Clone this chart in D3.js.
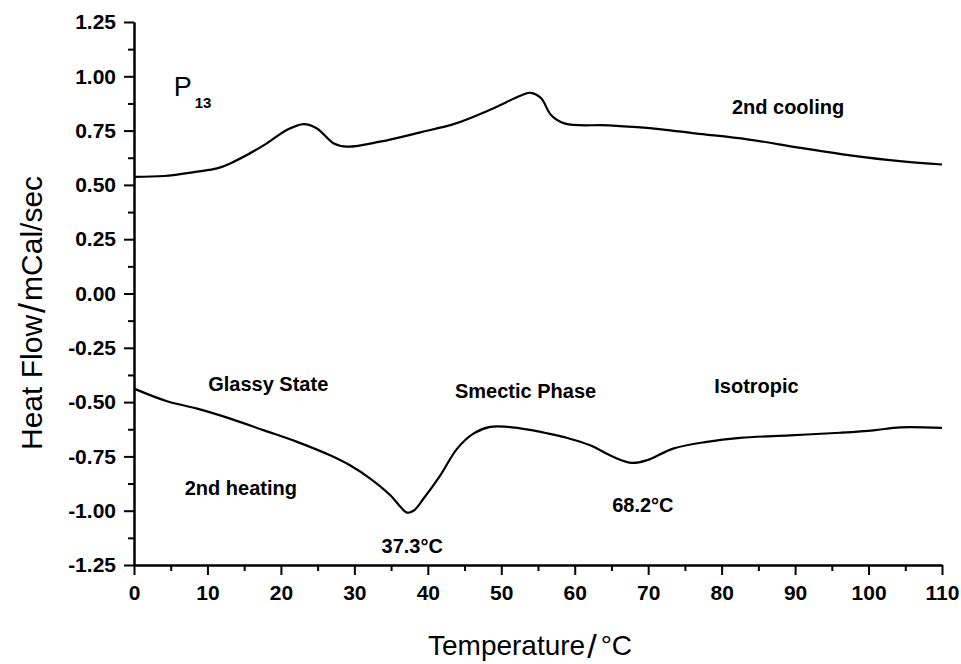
<!DOCTYPE html>
<html>
<head>
<meta charset="utf-8">
<script src="https://cdn.jsdelivr.net/npm/d3@7"></script>
<style>
  body { margin: 0; background: #fff; }
  svg { font-family: "Liberation Sans", Arial, sans-serif; }
</style>
</head>
<body>
<div id="chart"></div>
<script>
// 2nd cooling curve (upper)
const coolingTemp = [0, 4.05, 8.6, 11.3, 13.1, 17.7, 20.8, 23.1, 24.9, 27.2, 29.0, 33.5, 39.0, 43.7, 48.4, 53.0, 54.0, 55.4, 56.8, 58.7, 64.7, 71.8, 76.4, 83.5, 90.5, 97.5, 104.6, 110]
const coolingFlow = [0.537, 0.541, 0.561, 0.576, 0.599, 0.683, 0.753, 0.780, 0.760, 0.691, 0.676, 0.699, 0.742, 0.782, 0.845, 0.916, 0.924, 0.900, 0.821, 0.782, 0.774, 0.756, 0.737, 0.710, 0.672, 0.636, 0.608, 0.594]

// 2nd heating curve (lower)
const heatingTemp = [0, 4.5, 8.6, 13.1, 17.7, 22.2, 26.7, 29.4, 32.2, 34.9, 36.3, 37.2, 38.1, 39.4, 41.7, 44.0, 46.2, 48.5, 50.8, 53.9, 56.4, 59.0, 62.1, 65.3, 67.8, 69.8, 73.4, 78.0, 82.5, 89.3, 96.1, 100.7, 104.3, 110]
const heatingFlow = [-0.438, -0.496, -0.530, -0.576, -0.630, -0.683, -0.745, -0.791, -0.853, -0.929, -0.983, -1.009, -0.999, -0.945, -0.837, -0.714, -0.645, -0.614, -0.614, -0.628, -0.645, -0.665, -0.699, -0.753, -0.780, -0.768, -0.714, -0.683, -0.665, -0.653, -0.641, -0.630, -0.616, -0.619]

const xTicks = [0, 10, 20, 30, 40, 50, 60, 70, 80, 90, 100, 110]
const xMinor = [5, 15, 25, 35, 45, 55, 65, 75, 85, 95, 105]
const yTicks = [-1.25, -1.00, -0.75, -0.50, -0.25, 0.00, 0.25, 0.50, 0.75, 1.00, 1.25]
const yMinor = [-1.125, -0.875, -0.625, -0.375, -0.125, 0.125, 0.375, 0.625, 0.875, 1.125]

// annotation texts with their anchor in data units (temperature, heat flow)
const noteText = ["2nd cooling", "Glassy State", "Smectic Phase", "Isotropic", "2nd heating", "37.3°C", "68.2°C"]
const noteTemp = [81.4, 10.1, 43.7, 79.0, 6.9, 33.7, 65.1]
const noteFlow = [0.827, -0.448, -0.480, -0.457, -0.927, -1.194, -1.004]

let dimensions = {
    width: 961,
    height: 664,
    margin: {
        top: 22,
        right: 19,
        bottom: 99,
        left: 134,
    },
}
dimensions.boundedWidth = dimensions.width - dimensions.margin.left - dimensions.margin.right
dimensions.boundedHeight = dimensions.height - dimensions.margin.top - dimensions.margin.bottom

const svg = d3.select("#chart").append("svg")
    .attr("width", dimensions.width)
    .attr("height", dimensions.height)

const bounds = svg.append("g")
    .attr("transform", `translate(${dimensions.margin.left},${dimensions.margin.top})`)

const x = d3.scaleLinear()
    .domain([0, 110])
    .range([0, dimensions.boundedWidth])

const y = d3.scaleLinear()
    .domain([-1.25, 1.25])
    .range([dimensions.boundedHeight, 0])

// minor ticks first
bounds.append("g")
    .attr("class", "axis minor")
    .attr("transform", `translate(0,${dimensions.boundedHeight})`)
    .call(d3.axisBottom(x).tickValues(xMinor).tickSize(6).tickSizeOuter(0).tickFormat(""))

bounds.append("g")
    .attr("class", "axis minor")
    .call(d3.axisLeft(y).tickValues(yMinor).tickSize(6).tickSizeOuter(0).tickFormat(""))

// major axes
bounds.append("g")
    .attr("class", "axis major")
    .attr("transform", `translate(0,${dimensions.boundedHeight})`)
    .call(d3.axisBottom(x).tickValues(xTicks).tickSize(10).tickSizeOuter(0).tickPadding(10))

bounds.append("g")
    .attr("class", "axis major")
    .call(d3.axisLeft(y).tickValues(yTicks).tickSize(10).tickSizeOuter(0).tickPadding(8)
        .tickFormat(d => d.toFixed(2)))

bounds.selectAll(".axis path, .axis line")
    .attr("stroke", "#000")
    .attr("stroke-width", 2)

bounds.selectAll(".axis text")
    .attr("fill", "#000")
    .style("font-size", "21px")
    .style("font-weight", "bold")

const line = d3.line()
    .x(d => x(d[0]))
    .y(d => y(d[1]))
    .curve(d3.curveCatmullRom.alpha(0.5))

bounds.append("path")
    .datum(d3.zip(coolingTemp, coolingFlow))
    .attr("d", line)
    .attr("fill", "none")
    .attr("stroke", "#000")
    .attr("stroke-width", 2.2)

bounds.append("path")
    .datum(d3.zip(heatingTemp, heatingFlow))
    .attr("d", line)
    .attr("fill", "none")
    .attr("stroke", "#000")
    .attr("stroke-width", 2.2)

// annotations
bounds.selectAll(".note")
    .data(d3.range(noteText.length))
    .enter()
    .append("text")
    .attr("class", "note")
    .attr("x", i => x(noteTemp[i]))
    .attr("y", i => y(noteFlow[i]))
    .style("font-size", "20px")
    .style("font-weight", "bold")
    .text(i => noteText[i])

// sample name P13
const pLabel = bounds.append("text")
    .attr("x", x(5.4))
    .attr("y", y(0.907))
pLabel.append("tspan").style("font-size", "27px").text("P")
pLabel.append("tspan")
    .attr("dx", 3)
    .attr("dy", 12)
    .style("font-size", "15px")
    .style("font-weight", "bold")
    .text("13")

// axis titles
const xTitle = svg.append("text")
    .attr("x", 428)
    .attr("y", 655)
xTitle.append("tspan").style("font-size", "28px").text("Temperature")
xTitle.append("tspan").attr("dx", 2).attr("dy", 3).style("font-size", "34px").text("/")
xTitle.append("tspan").attr("dx", 4).attr("dy", -3).style("font-size", "28px").text("°C")

const yTitle = svg.append("text")
    .attr("transform", "translate(42,450) rotate(-90)")
yTitle.append("tspan").style("font-size", "30px").text("Heat Flow")
yTitle.append("tspan").attr("dx", 2).attr("dy", 3).style("font-size", "36px").text("/")
yTitle.append("tspan").attr("dx", 2).attr("dy", -3).style("font-size", "30px").text("mCal/sec")
</script>
</body>
</html>
